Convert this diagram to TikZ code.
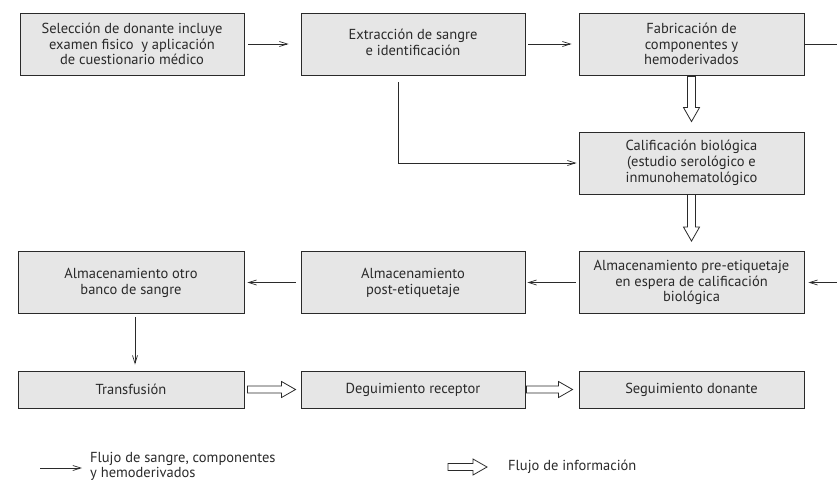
\documentclass[tikz,border=0pt]{standalone}
\usepackage{fontspec}
\setmainfont{PT Sans}
\usetikzlibrary{arrows.meta,calc}
\definecolor{boxfill}{HTML}{E6E6E6}
\definecolor{ink}{HTML}{2A2A2A}
\tikzset{
  box/.style={draw=ink, line width=0.9pt, fill=boxfill, minimum width=224pt, minimum height=62pt, inner sep=2pt, align=center, text=ink, font=\fontsize{14.5}{15.8}\selectfont},
  lowbox/.style={box, minimum height=37pt},
  flow/.style={draw=ink, line width=0.8pt, -{Straight Barb[length=8pt,width=5pt,line width=0.7pt]}},
  plain/.style={draw=ink, line width=0.8pt},
  hollow/.style={draw=ink, line width=0.8pt, fill=white},
  legend/.style={anchor=west, align=left, text=ink, font=\fontsize{14.5}{15}\selectfont, inner sep=0pt}
}
\newcommand\hArrowRight[2]{%
  \draw[hollow] let \p1=(#1), \p2=(#2) in
   (\x1,\y1+3.5pt) -- (\x2-14pt,\y1+3.5pt) -- (\x2-14pt,\y1+8pt) -- (\x2,\y1)
   -- (\x2-14pt,\y1-8pt) -- (\x2-14pt,\y1-3.5pt) -- (\x1,\y1-3.5pt) -- cycle;}
\newcommand\hArrowDown[2]{%
  \draw[hollow] let \p1=(#1), \p2=(#2) in
   (\x1-4pt,\y1) -- (\x1-4pt,\y2+14pt) -- (\x1-8pt,\y2+14pt) -- (\x1,\y2)
   -- (\x1+8pt,\y2+14pt) -- (\x1+4pt,\y2+14pt) -- (\x1+4pt,\y1) -- cycle;}
\begin{document}
\begin{tikzpicture}[x=1pt,y=1pt]
\useasboundingbox (0,0) rectangle (837,483);
% row 1
\node[box] (sel) at (132,439) {Selección de donante incluye\\examen fisico\ \ y aplicación\\de cuestionario médico};
\node[box] (ext) at (413,439) {\raisebox{6pt}{\begin{tabular}{@{}c@{}}Extracción de sangre\\e identificación\end{tabular}}};
\node[box, minimum width=225pt] (fab) at (691.5,439) {Fabricación de\\componentes y\\hemoderivados};
% row 2
\node[box, minimum width=225pt] (cal) at (691.5,320) {Calificación biológica\\(estudio serológico e\\inmunohematológico};
% row 3
\node[box, minimum width=225pt] (pre) at (691.5,200.5) {Almacenamiento pre-etiquetaje\\en espera de calificación\\biológica};
\node[box] (post) at (413,200.5) {Almacenamiento\\post-etiquetaje};
\node[box, minimum width=226pt] (otro) at (131,200.5) {Almacenamiento otro\\banco de sangre};
% row 4
\node[lowbox, minimum width=226pt] (trans) at (131,93.5) {Transfusión};
\node[lowbox] (deg) at (413,93.5) {Deguimiento receptor};
\node[lowbox, minimum width=225pt] (seg) at (691.5,93.5) {Seguimiento donante};
% edge coordinates
\coordinate (edgeA) at (837,439);
\coordinate (edgeB) at (837,200.5);
% blood flow
\draw[flow, shorten <=4pt, shorten >=12pt] (sel.east) -- (ext.west);
\draw[flow, shorten <=3pt, shorten >=7pt] (ext.east) -- (fab.west);
\draw[flow, shorten >=2pt] ([xshift=-15pt,yshift=-7pt]ext.south) |- (cal.west);
\draw[plain] (fab.east) -- (edgeA);
\draw[flow, shorten >=4pt] (edgeB) -- (pre.east);
\draw[flow, shorten <=3pt, shorten >=2pt] (pre.west) -- (post.east);
\draw[flow, shorten <=5pt, shorten >=3pt] (post.west) -- (otro.east);
\draw[flow, shorten <=3pt, shorten >=6pt] ([xshift=4pt]otro.south) -- ([xshift=4pt]trans.north);
% information flow
\hArrowDown{[yshift=-1pt]fab.south}{[yshift=10pt]cal.north}
\hArrowDown{cal.south}{[yshift=10pt]pre.north}
\hArrowRight{[xshift=3pt]trans.east}{[xshift=-5pt]deg.west}
\hArrowRight{[xshift=1pt]deg.east}{[xshift=-6pt]seg.west}
% legend
\coordinate (lgA1) at (40,15);
\coordinate (lgA2) at (82,15);
\draw[flow] (lgA1) -- (lgA2);
\node[legend] (lgT1) at (90,17) {Flujo de sangre, componentes\\y hemoderivados};
\coordinate (lgB1) at (448,16);
\coordinate (lgB2) at (487,16);
\hArrowRight{lgB1}{lgB2}
\node[legend] (lgT2) at (508,16) {Flujo de información};
\end{tikzpicture}
\end{document}
